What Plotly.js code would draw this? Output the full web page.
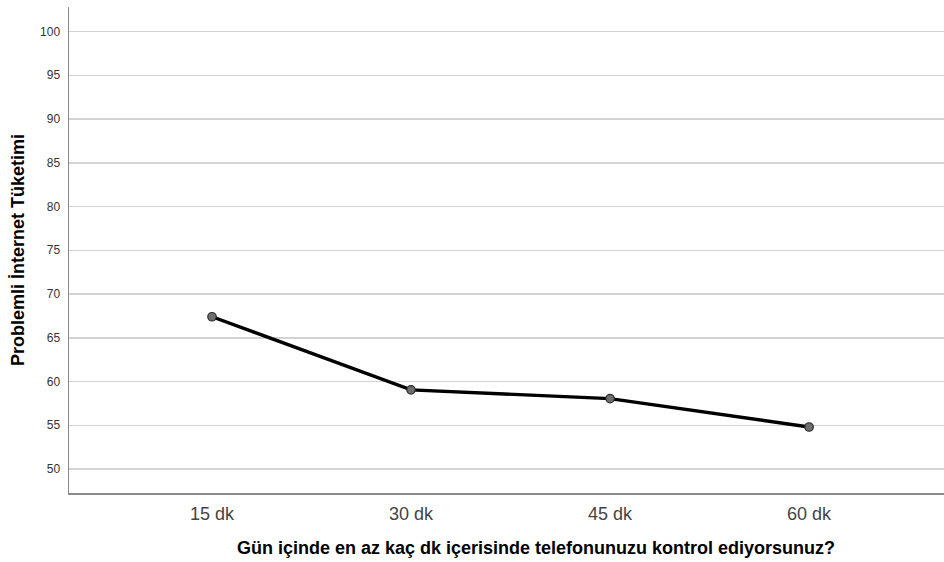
<!DOCTYPE html>
<html>
<head>
<meta charset="utf-8">
<script src="https://cdn.plot.ly/plotly-3.0.1.min.js"></script>
<style>html,body{margin:0;padding:0;background:#fff;}#chart{width:944px;height:562px;}</style>
</head>
<body>
<div id="chart"></div>
<script>
const categories = ["15 dk", "30 dk", "45 dk", "60 dk"];
const meanValues = [67.4, 59.05, 58.05, 54.8];
const yTickValues = [50, 55, 60, 65, 70, 75, 80, 85, 90, 95, 100];
const xAxisTitle = 'Gün içinde en az kaç dk içerisinde telefonunuzu kontrol ediyorsunuz?';
const yAxisTitle = 'Problemli İnternet Tüketimi';

const trace = {
  x: categories,
  y: meanValues,
  type: 'scatter',
  mode: 'lines+markers',
  line: {color: '#000000', width: 3.4},
  marker: {size: 8.5, color: '#6e6e6e', line: {color: '#2a2a2a', width: 1.2}},
  hoverinfo: 'skip'
};

const layout = {
  width: 944,
  height: 562,
  margin: {l: 69, r: 0, t: 7, b: 69},
  paper_bgcolor: '#ffffff',
  plot_bgcolor: '#ffffff',
  showlegend: false,
  font: {family: 'Liberation Sans, Arial, sans-serif', color: '#222'},
  xaxis: {
    type: 'category',
    range: [-0.7186, 3.678],
    showgrid: false,
    zeroline: false,
    showline: true,
    linecolor: '#8a8a8a',
    linewidth: 1.5,
    ticks: 'outside',
    ticklen: 4,
    tickcolor: 'rgba(0,0,0,0)',
    tickfont: {size: 18, color: '#444'}
  },
  yaxis: {
    range: [47.26, 102.8],
    tickvals: yTickValues,
    ticktext: yTickValues.map(String),
    showgrid: true,
    gridcolor: '#d3d3d3',
    gridwidth: 1.5,
    zeroline: false,
    showline: true,
    linecolor: '#8a8a8a',
    linewidth: 1.5,
    ticks: 'outside',
    ticklen: 5,
    tickcolor: 'rgba(0,0,0,0)',
    tickfont: {size: 12, color: '#333'},
    title: {text: yAxisTitle, font: {size: 18, color: '#000', family: 'Liberation Sans, Arial, sans-serif', weight: 'bold'}, standoff: 11}
  },
  annotations: [{
    text: xAxisTitle,
    xref: 'paper', yref: 'paper',
    x: (536 - 69) / 875, y: -(548 - 493) / 486,
    xanchor: 'center', yanchor: 'middle',
    showarrow: false,
    font: {size: 18, color: '#000', family: 'Liberation Sans, Arial, sans-serif', weight: 'bold'}
  }]
};

Plotly.newPlot('chart', [trace], layout, {displayModeBar: false, staticPlot: true});
</script>
</body>
</html>
